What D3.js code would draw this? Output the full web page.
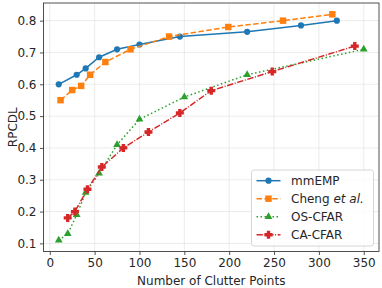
<!DOCTYPE html>
<html>
<head>
<meta charset="utf-8">
<script src="https://cdn.jsdelivr.net/npm/d3@7"></script>
<style>
  body { margin: 0; background: #fff; }
  text { font-family: "DejaVu Sans", sans-serif; fill: #262626; }
</style>
</head>
<body>
<svg width="382" height="288"></svg>
<script>
// waarden
const mmempX = [10, 30, 40, 55, 75, 100, 145, 220, 280, 320]
const mmempY = [0.60, 0.63, 0.65, 0.685, 0.71, 0.725, 0.75, 0.765, 0.785, 0.80]

const chengX = [12, 25, 35, 45, 62, 90, 133, 199, 260, 315]
const chengY = [0.55, 0.582, 0.595, 0.63, 0.67, 0.71, 0.75, 0.78, 0.80, 0.82]

const osX = [10, 20, 30, 40, 55, 75, 100, 150, 220, 350]
const osY = [0.11, 0.13, 0.19, 0.26, 0.32, 0.41, 0.49, 0.56, 0.63, 0.71]

const caX = [20, 28, 42, 58, 82, 110, 145, 180, 248, 340]
const caY = [0.18, 0.20, 0.27, 0.34, 0.40, 0.45, 0.51, 0.58, 0.64, 0.72]

const xTicks = [0, 50, 100, 150, 200, 250, 300, 350]
const yTicks = [0.1, 0.2, 0.3, 0.4, 0.5, 0.6, 0.7, 0.8]

// dikke plus, zoals marker 'P'
const fatPlus = {
    draw(context, size) {
        const r = Math.sqrt(size) / 2
        const a = r * 0.42
        context.moveTo(-a, -r)
        context.lineTo(a, -r)
        context.lineTo(a, -a)
        context.lineTo(r, -a)
        context.lineTo(r, a)
        context.lineTo(a, a)
        context.lineTo(a, r)
        context.lineTo(-a, r)
        context.lineTo(-a, a)
        context.lineTo(-r, a)
        context.lineTo(-r, -a)
        context.lineTo(-a, -a)
        context.closePath()
    }
}

const series = [
    {name: 'mmEMP', x: mmempX, y: mmempY, color: '#1f77b4', dash: null, symbol: d3.symbolCircle, size: 30},
    {name: 'Cheng', x: chengX, y: chengY, color: '#ff7f0e', dash: '5.5,2.4', symbol: d3.symbolSquare, size: 42},
    {name: 'OS-CFAR', x: osX, y: osY, color: '#2ca02c', dash: '1.5,2.5', symbol: d3.symbolTriangle, size: 26},
    {name: 'CA-CFAR', x: caX, y: caY, color: '#d62728', dash: '6.4,1.6,1,1.6', symbol: fatPlus, size: 64}
]

const svg = d3.select('svg')
const margin = {top: 3, right: 3, bottom: 36.5, left: 43.5}
const width = +svg.attr('width')
const height = +svg.attr('height')
const innerWidth = width - margin.left - margin.right
const innerHeight = height - margin.top - margin.bottom

const xscale = d3.scaleLinear().domain([-7, 367]).range([0, innerWidth])
const yscale = d3.scaleLinear().domain([0.0745, 0.8555]).range([innerHeight, 0])

const g = svg.append('g')
    .attr('transform', `translate(${margin.left}, ${margin.top})`)

// grid
g.append('g').selectAll('line').data(xTicks).enter().append('line')
    .attr('x1', d => xscale(d)).attr('x2', d => xscale(d))
    .attr('y1', 0).attr('y2', innerHeight)
    .attr('stroke', '#b0b0b0').attr('stroke-opacity', 0.3).attr('stroke-width', 0.8)
g.append('g').selectAll('line').data(yTicks).enter().append('line')
    .attr('y1', d => yscale(d)).attr('y2', d => yscale(d))
    .attr('x1', 0).attr('x2', innerWidth)
    .attr('stroke', '#b0b0b0').attr('stroke-opacity', 0.3).attr('stroke-width', 0.8)

// assen
const xAxis = g.append('g')
    .attr('transform', `translate(0, ${innerHeight})`)
    .call(d3.axisBottom(xscale).tickValues(xTicks).tickSize(3.5).tickPadding(3.5))
const yAxis = g.append('g')
    .call(d3.axisLeft(yscale).tickValues(yTicks).tickFormat(d3.format('.1f')).tickSize(3.5).tickPadding(3.5))
;[xAxis, yAxis].forEach(a => {
    a.select('.domain').remove()
    a.selectAll('line').attr('stroke', '#262626').attr('stroke-width', 0.8)
    a.selectAll('text').style('font-size', '12px').style('font-family', '"DejaVu Sans", sans-serif').attr('fill', '#262626')
})

// lijnen en markers
series.forEach(s => {
    const pts = s.x.map((x, i) => [x, s.y[i]])
    g.append('path')
        .datum(pts)
        .attr('fill', 'none')
        .attr('stroke', s.color)
        .attr('stroke-width', 1.5)
        .attr('stroke-dasharray', s.dash)
        .attr('d', d3.line().x(d => xscale(d[0])).y(d => yscale(d[1])))
    g.selectAll(null).data(pts).enter().append('path')
        .attr('transform', d => `translate(${xscale(d[0])}, ${yscale(d[1])})`)
        .attr('d', d3.symbol().type(s.symbol).size(s.size))
        .attr('fill', s.color)
})

// frame
g.append('rect')
    .attr('width', innerWidth).attr('height', innerHeight)
    .attr('fill', 'none').attr('stroke', '#262626').attr('stroke-width', 0.8)

// as-labels
svg.append('text')
    .attr('x', margin.left + innerWidth / 2).attr('y', 284.5)
    .attr('text-anchor', 'middle').style('font-size', '12px')
    .text('Number of Clutter Points')
svg.append('text')
    .attr('transform', `translate(17.3, ${margin.top + innerHeight / 2}) rotate(-90)`)
    .attr('text-anchor', 'middle').style('font-size', '12px')
    .text('RPCDL')

// legenda
const legend = svg.append('g').attr('transform', 'translate(251.5, 170)')
legend.append('rect')
    .attr('width', 122).attr('height', 76).attr('rx', 2.5)
    .attr('fill', '#fff').attr('fill-opacity', 0.8)
    .attr('stroke', '#cccccc').attr('stroke-width', 0.8)
series.forEach((s, i) => {
    const row = legend.append('g').attr('transform', `translate(0, ${10.7 + i * 18})`)
    row.append('line')
        .attr('x1', 5).attr('x2', 29).attr('y1', 0).attr('y2', 0)
        .attr('stroke', s.color).attr('stroke-width', 1.5)
        .attr('stroke-dasharray', s.dash)
    row.append('path')
        .attr('transform', 'translate(17, 0)')
        .attr('d', d3.symbol().type(s.symbol).size(s.size))
        .attr('fill', s.color)
    const t = row.append('text').attr('x', 39.5).attr('y', 4.3).style('font-size', '12px')
    if (s.name === 'Cheng') {
        t.append('tspan').text('Cheng ')
        t.append('tspan').style('font-style', 'italic').text('et al.')
    } else {
        t.text(s.name)
    }
})
</script>
</body>
</html>
